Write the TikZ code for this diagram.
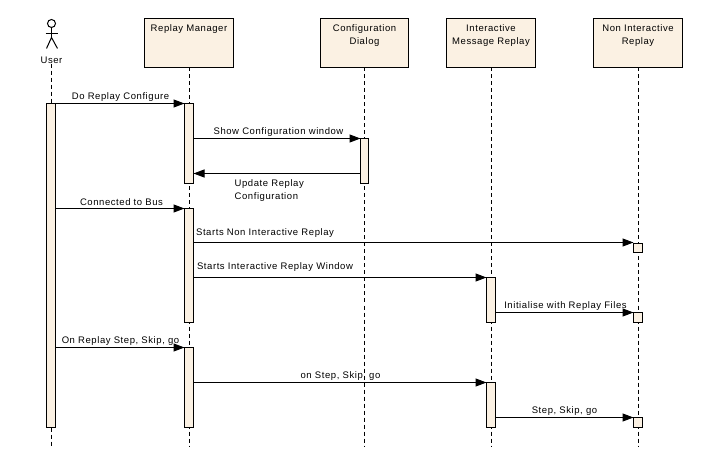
\documentclass[tikz,border=0pt]{standalone}
\usepackage{fontspec}
\setmainfont[LetterSpace=6]{Liberation Sans}
\usetikzlibrary{arrows.meta,positioning}

\definecolor{objfill}{RGB}{251,241,227}

\tikzset{
  obj/.style={draw=black,fill=objfill,line width=1pt,minimum width=89pt,minimum height=49pt,inner sep=0pt,outer sep=0pt,anchor=north,xshift=-0.5pt},
  act/.style={draw=black,fill=objfill,line width=1pt,minimum width=9pt,inner sep=0pt,outer sep=0pt,anchor=north,xshift=-0.5pt},
  life/.style={line width=1pt,dash pattern=on 4pt off 3pt},
  msg/.style={line width=1pt,-{Triangle[length=11pt,width=8pt]}},
  txt/.style={inner sep=0pt,align=center,font=\fontsize{9.5}{13}\selectfont}
}

\begin{document}
\begin{tikzpicture}[x=1pt,y=-1pt]
  \useasboundingbox (-0.5,-0.5) rectangle (708.5,469.5);

  %% actor
  \node[circle,draw=black,line width=1pt,minimum size=8pt,inner sep=0pt,outer sep=0pt] (head) at (51,23) {};
  \coordinate (hip) at (51,37);
  \coordinate (armL) at (45,33);
  \coordinate (armR) at (57,33);
  \coordinate (legL) at (46,48);
  \coordinate (legR) at (57,48);
  \draw[line width=1pt] (head.south) -- (hip);
  \draw[line width=1pt] (armL) -- (armR);
  \draw[line width=1pt] (legL) -- (hip) -- (legR);
  \node[txt] (user) at (51,59.5) {User};

  %% objects
  \node[obj] (rm) at (189,18) {};
  \node[obj,minimum width=88pt,xshift=0.5pt] (cd) at (364,18) {};
  \node[obj] (imr) at (491,18) {};
  \node[obj] (nir) at (638,18) {};
  \node[txt,below=6pt of rm.north] (rmtxt) {Replay Manager};
  \node[txt,below=6pt of cd.north] (cdtxt) {Configuration\\Dialog};
  \node[txt,below=6pt of imr.north] (imrtxt) {Interactive\\Message Replay};
  \node[txt,below=6pt of nir.north] (nirtxt) {Non Interactive\\Replay};

  %% lifelines
  \coordinate (uend) at (51,445.5);
  \coordinate (rmend) at (189,445.5);
  \coordinate (cdend) at (364,445.5);
  \coordinate (imrend) at (491,445.5);
  \coordinate (nirend) at (638,445.5);
  \draw[life] (user.south -| uend) -- (uend);
  \draw[life] (rm.south -| rmend) -- (rmend);
  \draw[life] (cd.south -| cdend) -- (cdend);
  \draw[life] (imr.south -| imrend) -- (imrend);
  \draw[life] (nir.south -| nirend) -- (nirend);

  %% activations
  \node[act,minimum height=324pt] (ua) at (51,103) {};
  \node[act,minimum height=80pt] (rma) at (189,103) {};
  \node[act,minimum height=114pt] (rmb) at (189,208) {};
  \node[act,minimum height=80pt] (rmc) at (189,347) {};
  \node[act,minimum width=8pt,xshift=0.5pt,minimum height=45pt] (cda) at (364,138) {};
  \node[act,minimum height=45pt] (imra) at (491,277) {};
  \node[act,minimum height=45pt] (imrb) at (491,382) {};
  \node[act,minimum height=9pt] (nira) at (638,243) {};
  \node[act,minimum height=10pt] (nirb) at (638,312) {};
  \node[act,minimum height=10pt] (nirc) at (638,417) {};

  %% message rows
  \coordinate (m1) at (0,103);
  \coordinate (m2) at (0,138);
  \coordinate (m3) at (0,173);
  \coordinate (m4) at (0,208);
  \coordinate (m5) at (0,242);
  \coordinate (m6) at (0,277);
  \coordinate (m7) at (0,312);
  \coordinate (m8) at (0,347);
  \coordinate (m9) at (0,382);
  \coordinate (m10) at (0,417);

  %% messages
  \draw[msg] (ua.east |- m1) -- (rma.west |- m1);
  \draw[msg] (rma.east |- m2) -- (cda.west |- m2);
  \draw[msg] (cda.west |- m3) -- (rma.east |- m3);
  \draw[msg] (ua.east |- m4) -- (rmb.west |- m4);
  \draw[msg] (rmb.east |- m5) -- (nira.west |- m5);
  \draw[msg] (rmb.east |- m6) -- (imra.west |- m6);
  \draw[msg] (imra.east |- m7) -- (nirb.west |- m7);
  \draw[msg] (ua.east |- m8) -- (rmc.west |- m8);
  \draw[msg] (rmc.east |- m9) -- (imrb.west |- m9);
  \draw[msg] (imrb.east |- m10) -- (nirc.west |- m10);

  %% message labels
  \node[txt] (l1) at (120,97) {Do Replay Configure};
  \node[txt] (l2) at (278,132) {Show Configuration window};
  \node[txt,align=left,anchor=west] (l3) at (234,190.5) {Update Replay\\Configuration};
  \node[txt] (l4) at (121,202) {Connected to Bus};
  \node[txt] (l5) at (264.5,233) {Starts Non Interactive Replay};
  \node[txt] (l6) at (274.5,267) {Starts Interactive Replay Window};
  \node[txt] (l7) at (565,306) {Initialise with Replay Files};
  \node[txt] (l8) at (120,341) {On Replay Step, Skip, go};
  \node[txt] (l9) at (340,376) {on Step, Skip, go};
  \node[txt] (l10) at (564,411) {Step, Skip, go};
\end{tikzpicture}
\end{document}
